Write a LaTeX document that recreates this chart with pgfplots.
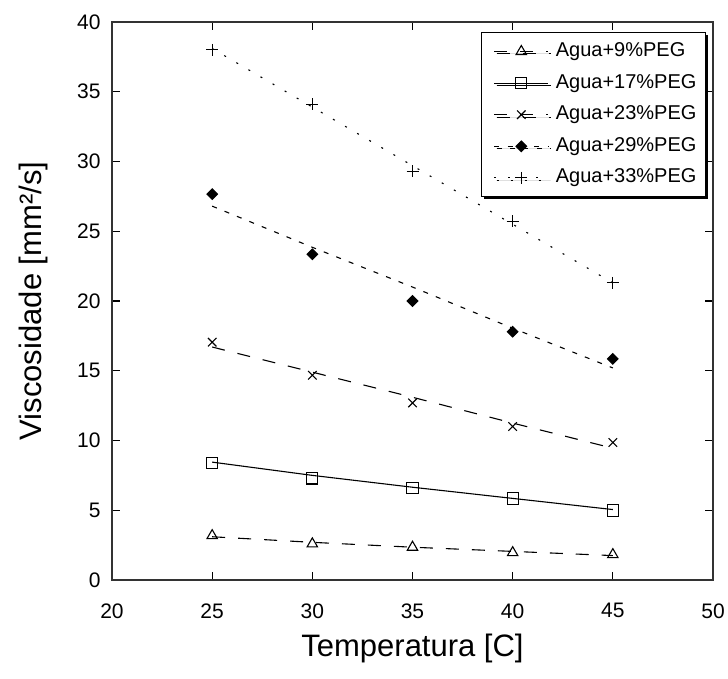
\documentclass[border=0pt]{standalone}
\usepackage{fontspec}
\setmainfont{Liberation Sans}
\usepackage{pgfplots}
\pgfplotsset{compat=1.18}
\usetikzlibrary{shadows}

\begin{document}
\begin{tikzpicture}
\begin{axis}[
  scale only axis,
  width=300.5pt, height=279pt,
  xmin=20, xmax=50, ymin=0, ymax=40,
  xtick={20,25,...,50}, ytick={0,5,...,40},
  tick align=inside,
  major tick length=4pt,
  axis line style={black!80, line width=0.8pt},
  tick style={black, line width=0.6pt},
  /pgf/number format/assume math mode=true,
  tick label style={font=\fontsize{10.5}{12}\selectfont},
  xticklabel style={anchor=north, inner sep=0pt, yshift=-11.5pt},
  yticklabel style={anchor=east, inner sep=0pt, xshift=-5.5pt},
  every axis x label/.style={at={(axis description cs:0.5,0)}, anchor=center, yshift=-34pt},
  every axis y label/.style={at={(axis description cs:0,0.5)}, anchor=center, xshift=-39.5pt, rotate=90},
  label style={font=\fontsize{15.5}{18}\selectfont},
  xlabel={Temperatura [C]},
  ylabel={Viscosidade [mm²/s]},
  legend style={
    at={(1,1)}, anchor=north east, xshift=-3.5pt, yshift=-5pt,
    font=\fontsize{10}{12}\selectfont,
    draw=black, line width=0.5pt, fill=white,
    inner xsep=3.5pt, inner ysep=4pt,
    row sep=4.8pt,
    nodes={inner sep=1pt, text height=7pt, text depth=2pt},
    cells={anchor=west},
    drop shadow={shadow xshift=1.2pt, shadow yshift=-1.2pt, fill=black, opacity=1},
  },
  legend image code/.code={
    \path (0pt,0pt) (32pt,0pt);
    \draw[mark repeat=2, mark phase=2, #1]
      plot coordinates {(2.5pt,0pt) (16pt,0pt) (29.5pt,0pt)};
  },
  every axis plot/.append style={black, line width=0.55pt},
]
% fitted lines
\addplot[forget plot, dash pattern=on 6.5pt off 6.5pt] coordinates {(25,3.1) (30,2.7) (35,2.35) (40,2.05) (45,1.75)};
\addplot[forget plot, solid] coordinates {(25,8.45) (30,7.5) (35,6.65) (40,5.85) (45,5.05)};
\addplot[forget plot, dash pattern=on 6.5pt off 6.5pt] coordinates {(25,16.7) (30,14.9) (35,13.1) (40,11.25) (45,9.45)};
\addplot[forget plot, dash pattern=on 2.5pt off 4.2pt] coordinates {(25,26.8) (30,23.85) (35,21.0) (40,18.05) (45,15.2)};
\addplot[forget plot, dash pattern=on 1pt off 6pt] coordinates {(25,38.1) (30,33.9) (35,29.7) (40,25.5) (45,21.3)};
% measured points
\addplot[forget plot, only marks, mark=triangle, mark size=3pt] coordinates {(25,3.18) (30,2.59) (35,2.35) (40,1.96) (45,1.82)};
\addplot[forget plot, only marks, mark=square, mark size=2.8pt] coordinates {(25,8.38) (30,7.28) (35,6.61) (40,5.84) (45,4.98)};
\addplot[forget plot, only marks, mark=x, mark size=3pt] coordinates {(25,17.05) (30,14.68) (35,12.69) (40,11.0) (45,9.86)};
\addplot[forget plot, only marks, mark=square*, mark size=1.85pt, mark options={rotate=45}] coordinates {(25,27.66) (30,23.35) (35,20.0) (40,17.8) (45,15.85)};
\addplot[forget plot, only marks, mark=+, mark size=3pt] coordinates {(25,38.0) (30,34.1) (35,29.3) (40,25.7) (45,21.3)};
% legend
\addlegendimage{black, line width=0.55pt, dash pattern=on 6.5pt off 6.5pt, mark=triangle, mark size=3pt, mark options={solid}}
\addlegendentry{Agua+9\%PEG}
\addlegendimage{black, line width=0.55pt, solid, mark=square, mark size=2.8pt}
\addlegendentry{Agua+17\%PEG}
\addlegendimage{black, line width=0.55pt, dash pattern=on 6.5pt off 6.5pt, mark=x, mark size=3pt, mark options={solid}}
\addlegendentry{Agua+23\%PEG}
\addlegendimage{black, line width=0.55pt, dash pattern=on 2.5pt off 4.2pt, mark=square*, mark size=1.85pt, mark options={solid, rotate=45}}
\addlegendentry{Agua+29\%PEG}
\addlegendimage{black, line width=0.55pt, dash pattern=on 1pt off 6pt, mark=+, mark size=3pt, mark options={solid}}
\addlegendentry{Agua+33\%PEG}
\end{axis}
\pgfresetboundingbox
\useasboundingbox ([shift={(-56pt,-49.5pt)}]current axis.south west) rectangle ([shift={(7.5pt,11pt)}]current axis.north east);
\end{tikzpicture}
\end{document}
